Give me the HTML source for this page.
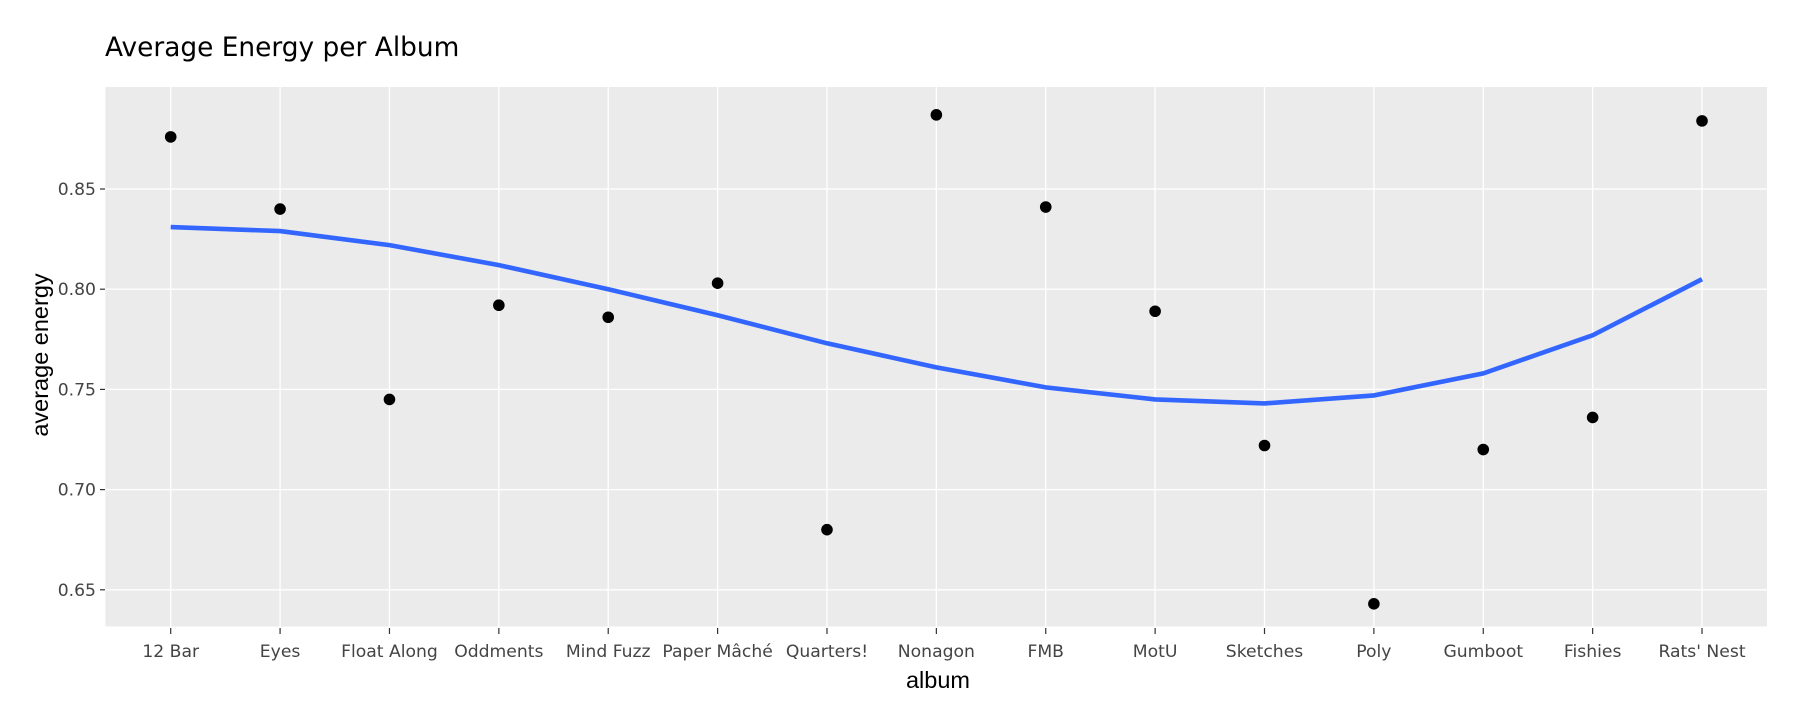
<!DOCTYPE html>
<html><head><meta charset="utf-8"><style>
body{margin:0;background:#fff;}
svg{display:block;font-family:"DejaVu Sans","Liberation Sans",sans-serif;}
</style></head><body>
<svg id="chart" width="1796" height="712" xmlns="http://www.w3.org/2000/svg">
<text x="105" y="56" font-size="26.4" fill="#000">Average Energy per Album</text>
<rect x="105.4" y="87" width="1661.6" height="539.5" fill="#ebebeb"/>
<g id="grid"></g><g id="axes"></g><g id="marks"></g>
<text x="938" y="688" font-size="23.5" font-family="Liberation Sans, sans-serif" text-anchor="middle" fill="#000">album</text>
<text transform="translate(48,355) rotate(-90)" font-size="23.5" font-family="Liberation Sans, sans-serif" text-anchor="middle" fill="#000">average energy</text>
</svg>
<script>
const categories=["12 Bar","Eyes","Float Along","Oddments","Mind Fuzz","Paper Mâché","Quarters!","Nonagon","FMB","MotU","Sketches","Poly","Gumboot","Fishies","Rats' Nest"];
const energyValues=[0.876,0.840,0.745,0.792,0.786,0.803,0.680,0.887,0.841,0.789,0.722,0.643,0.720,0.736,0.884];
const smoothValues=[0.831,0.829,0.822,0.812,0.800,0.787,0.773,0.761,0.751,0.745,0.743,0.747,0.758,0.777,0.805];
const yTicks=[0.65,0.70,0.75,0.80,0.85];
const yTickLabels=["0.65","0.70","0.75","0.80","0.85"];
const NS="http://www.w3.org/2000/svg";
const x=i=>170.7+i*109.38;
const y=v=>189+(0.85-v)/0.05*100.2;
function mk(tag,attrs,parent){const e=document.createElementNS(NS,tag);for(const k in attrs)e.setAttribute(k,attrs[k]);parent.appendChild(e);return e;}
const grid=document.getElementById('grid'),axes=document.getElementById('axes'),marks=document.getElementById('marks');
yTicks.forEach((t,i)=>{
  const g=mk('line',{x1:105.4,x2:1767,y1:y(t),y2:y(t),stroke:'#fff','stroke-width':1.3},grid);
  
  
  mk('line',{x1:100,x2:105,y1:y(t),y2:y(t),stroke:'#333','stroke-width':1.2},axes);
  const tx=mk('text',{x:96,y:y(t)+6,'font-size':17.2,'text-anchor':'end',fill:'#444'},axes);
  tx.textContent=yTickLabels[i];
  
  
});
categories.forEach((c,i)=>{
  const g=mk('line',{x1:x(i),x2:x(i),y1:87,y2:626.5,stroke:'#fff','stroke-width':1.3},grid);
  
  
  mk('line',{x1:x(i),x2:x(i),y1:628,y2:634,stroke:'#333','stroke-width':1.2},axes);
  const tx=mk('text',{x:x(i),y:657,'font-size':17.2,'text-anchor':'middle',fill:'#444'},axes);
  tx.textContent=c;
  
  
});
const d=smoothValues.map((v,i)=>(i?'L':'M')+x(i)+','+y(v)).join(' ');
const p=mk('path',{d:d,fill:'none',stroke:'#3366ff','stroke-width':4.6},marks);


energyValues.forEach((v,i)=>{
  const c=mk('circle',{cx:x(i),cy:y(v),r:5.8,fill:'#000'},marks);
  
  
});
</script>
</body></html>
